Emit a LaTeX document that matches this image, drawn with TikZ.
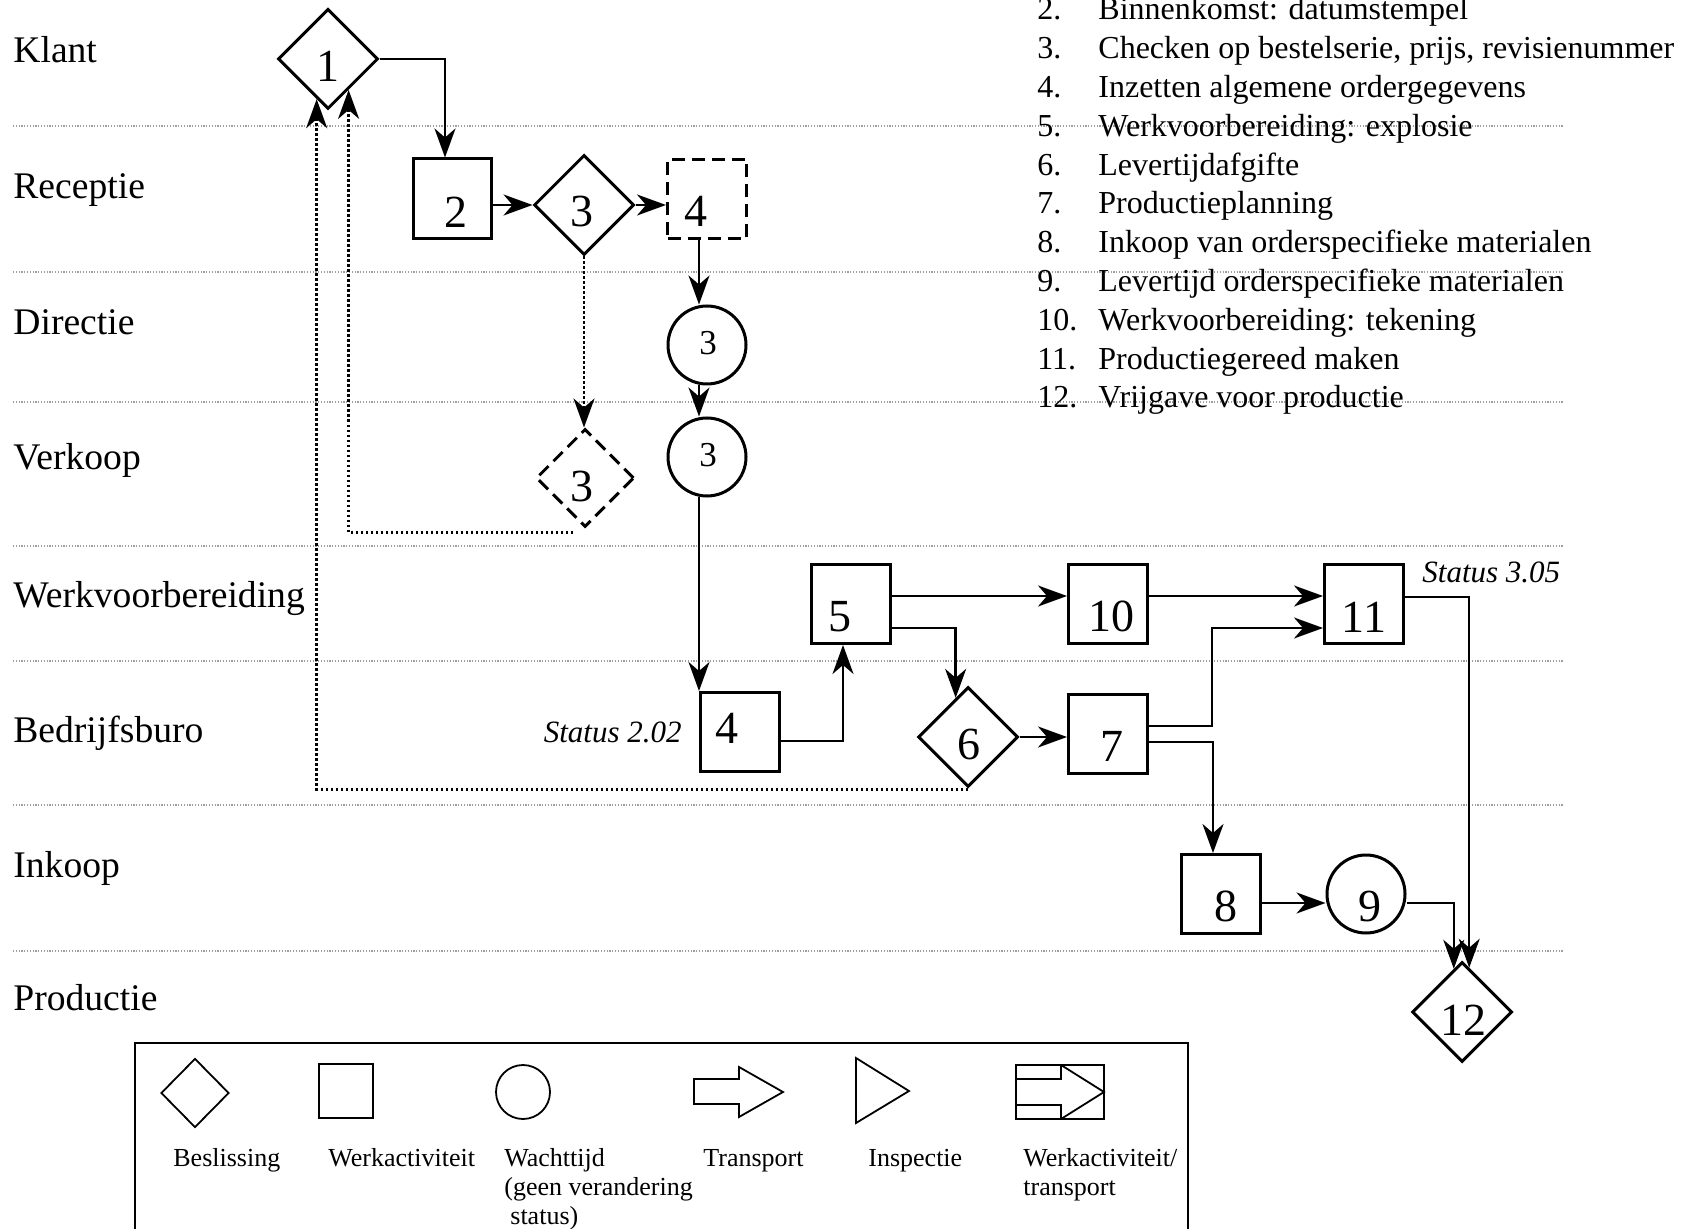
\documentclass[tikz,border=0pt]{standalone}
\usepackage{fontspec}
\setmainfont{Liberation Serif}
\usetikzlibrary{arrows.meta,shapes.geometric,calc}
\newcommand\dg[3]{\makebox[0pt]{\hspace*{#1}\raisebox{#2}[0pt][0pt]{#3}}}
\begin{document}
\begin{tikzpicture}[x=0.5pt,y=-0.5pt,
  lane/.style={draw=black!38, line width=0.7pt, dash pattern=on 0.6pt off 0.8pt},
  lanelbl/.style={font=\fontsize{18.8}{18.8}\selectfont, anchor=base west, inner sep=0pt},
  listtxt/.style={font=\fontsize{16}{16}\selectfont, anchor=base west, inner sep=0pt},
  stat/.style={font=\fontsize{15.5}{15.5}\selectfont\itshape, inner sep=0pt},
  box/.style={draw, line width=1.5pt, rectangle, minimum width=39.5pt, minimum height=39.5pt, inner sep=0pt, font=\fontsize{23}{23}\selectfont},
  dbox/.style={box, dash pattern=on 6.5pt off 3.5pt},
  dia/.style={draw, line width=1.5pt, diamond, aspect=1, minimum width=50pt, minimum height=50pt, inner sep=0pt, font=\fontsize{23}{23}\selectfont},
  ddia/.style={dia, dash pattern=on 6.5pt off 3.5pt, minimum width=49pt, minimum height=49pt},
  circ/.style={draw, line width=1.5pt, circle, minimum size=39pt, inner sep=0pt, font=\fontsize{17.5}{17.5}\selectfont},
  circbig/.style={circ, font=\fontsize{23}{23}\selectfont},
  arr/.style={line width=1.25pt, -{Stealth[length=14.5pt,width=10.5pt,inset=4.5pt]}},
  dotarr/.style={arr, line width=1.35pt, dash pattern=on 1.2pt off 1.3pt},
  legline/.style={line width=0.9pt},
  legtxt/.style={font=\fontsize{13}{13}\selectfont, anchor=base west, inner sep=0pt}
]
\clip (0,0) rectangle (1691,1229);
\fill[white] (0,0) rectangle (1691,1229);

% lane separators
\foreach \yy in {126,272,402,546,661,805,951}
  \draw[lane] (13,\yy) -- (1563,\yy);

% lane labels
\node[lanelbl] (lk) at (13,63) {Klant};
\node[lanelbl] (lr) at (13,199) {Receptie};
\node[lanelbl] (ld) at (13,335) {Directie};
\node[lanelbl] (lv) at (13,470) {Verkoop};
\node[lanelbl] (lw) at (13,607) {Werkvoorbereiding};
\node[lanelbl] (lb) at (13,742) {Bedrijfsburo};
\node[lanelbl] (li) at (13,877) {Inkoop};
\node[lanelbl] (lp) at (13,1010) {Productie};

% list
\foreach \n/\t [count=\i from 0] in {2./Binnenkomst: datumstempel,
  3./{Checken op bestelserie, prijs, revisienummer},
  4./Inzetten algemene ordergegevens,
  5./Werkvoorbereiding: explosie,
  6./Levertijdafgifte,
  7./Productieplanning,
  8./Inkoop van orderspecifieke materialen,
  9./Levertijd orderspecifieke materialen,
  10./Werkvoorbereiding: tekening,
  11./Productiegereed maken,
  12./Vrijgave voor productie}{
  \node[listtxt] (ln\i) at (1037,{20+38.8*\i}) {\n};
  \node[listtxt] (lt\i) at (1098,{20+38.8*\i}) {\t};
}

% process nodes
\node[dia] (d1) at (328,59) {\dg{0pt}{-11.3pt}{1}};
\node[box, minimum width=39pt, minimum height=40pt] (b2) at (452,199) {\dg{4pt}{-14.3pt}{2}};
\node[dia] (d3) at (584,205) {\dg{-2pt}{-10.8pt}{3}};
\node[dbox] (b4d) at (707,199) {\dg{-11pt}{-13.8pt}{4}};
\node[circ] (c3a) at (707,345) {\dg{1pt}{-4.9pt}{3}};
\node[circ] (c3b) at (707,457) {\dg{1pt}{-4.9pt}{3}};
\node[ddia] (d3d) at (585,478) {\dg{-3pt}{-11.8pt}{3}};
\node[box] (b4) at (740,732) {\dg{-13pt}{-5.8pt}{4}};
\node[box] (b5) at (851,604) {\dg{-11pt}{-13.8pt}{5}};
\node[box] (b10) at (1108,604) {\dg{3pt}{-13.8pt}{10}};
\node[box] (b11) at (1364,604) {\dg{0pt}{-14.3pt}{11}};
\node[dia] (d6) at (968,737) {\dg{1pt}{-11.3pt}{6}};
\node[box] (b7) at (1108,734) {\dg{4pt}{-13.8pt}{7}};
\node[box] (b8) at (1221,894) {\dg{5pt}{-13.8pt}{8}};
\node[circbig] (c9) at (1366,894) {\dg{4pt}{-13.8pt}{9}};
\node[dia] (d12) at (1462,1012) {\dg{1pt}{-11.8pt}{12}};

% status labels
\node[stat, anchor=base east] (s1) at (682,742) {Status 2.02};
\node[stat, anchor=base west] (s2) at (1422,582) {Status 3.05};

% connectors
\draw[arr] (d1.east) -| ([xshift=-3.5pt]b2.north);
\draw[arr] (b2.east |- d3.west) -- (d3.west);
\draw[arr] (d3.east) -- (b4d.west |- d3.east);
\draw[arr] (b4d.south -| b4.west) -- (c3a.north -| b4.west);
\draw[arr] (c3a.south -| b4.west) -- (c3b.north -| b4.west);
\draw[arr] (c3b.south -| b4.west) -- (b4.north west);
\draw[dotarr] (d3.south) -- (d3.south |- d3d.north);
\draw[dotarr] ([xshift=-6pt,yshift=-2pt]d3d.south) -| ($(d1.south)!0.4!(d1.east)$);
\draw[dotarr] ([yshift=-0.5pt]d6.south) -| ($(d1.south)!0.22!(d1.west)$);
\draw[arr] ([yshift=-4.5pt]b4.east) -| ([xshift=-4pt]b5.south);
\draw[arr] ([yshift=4pt]b5.east) -- ([yshift=4pt]b10.west);
\draw[arr] ([yshift=-12pt]b5.east) -| ($(d6.north)!0.24!(d6.west)$);
\draw[arr] ([yshift=4pt]b10.east) -- ([yshift=4pt]b11.west);
\draw[arr] (d6.east) -- (b7.west |- d6.east);
\coordinate (j1) at (1212,628);
\draw[arr] ([yshift=4pt]b7.east) -| (j1) -- ([yshift=-12pt]b11.west);
\draw[arr] ([yshift=-4pt]b7.east) -| ([xshift=-4pt]b8.north);
\draw[arr] ([yshift=-4.5pt]b8.east) -- ([yshift=-4.5pt]c9.west);
\draw[arr] ([yshift=-4.5pt]c9.east) -| ($(d12.north)!0.16!(d12.west)$);
\draw[arr] ([yshift=3.5pt]b11.east) -| ($(d12.north)!0.14!(d12.east)$);

% legend
\draw[line width=1pt] (135,1260) -- (135,1043) -- (1188,1043) -- (1188,1260);
\node[draw, legline, diamond, aspect=1, minimum width=34pt, minimum height=34.5pt, inner sep=0pt] (ls1) at (195,1093) {};
\node[draw, legline, rectangle, minimum size=27pt, inner sep=0pt] (ls2) at (346,1091) {};
\node[draw, legline, circle, minimum size=27pt, inner sep=0pt] (ls3) at (523,1092) {};
\draw[legline, line join=miter] (694,1079) -- (739,1079) -- (739,1067) -- (783,1092) -- (739,1117) -- (739,1104) -- (694,1104) -- cycle;
\draw[legline, line join=miter] (856,1058) -- (909,1091) -- (856,1123) -- cycle;
\draw[legline] (1016,1065) rectangle (1104,1119);
\draw[legline] (1016,1079) -- (1061,1079) -- (1061,1065);
\draw[legline] (1016,1105) -- (1061,1105) -- (1061,1119);
\draw[legline] (1061,1065) -- (1104,1092) -- (1061,1119);
\node[legtxt] (lt1) at (173,1166) {Beslissing};
\node[legtxt] (lt2) at (328,1166) {Werkactiviteit};
\node[legtxt] (lt3) at (504,1166) {Wachttijd};
\node[legtxt] (lt3b) at (504,1195) {(geen verandering};
\node[legtxt] (lt3c) at (510,1224) {status)};
\node[legtxt] (lt4) at (703,1166) {Transport};
\node[legtxt] (lt5) at (868,1166) {Inspectie};
\node[legtxt] (lt6) at (1023,1166) {Werkactiviteit/};
\node[legtxt] (lt6b) at (1023,1195) {transport};
\end{tikzpicture}
\end{document}
